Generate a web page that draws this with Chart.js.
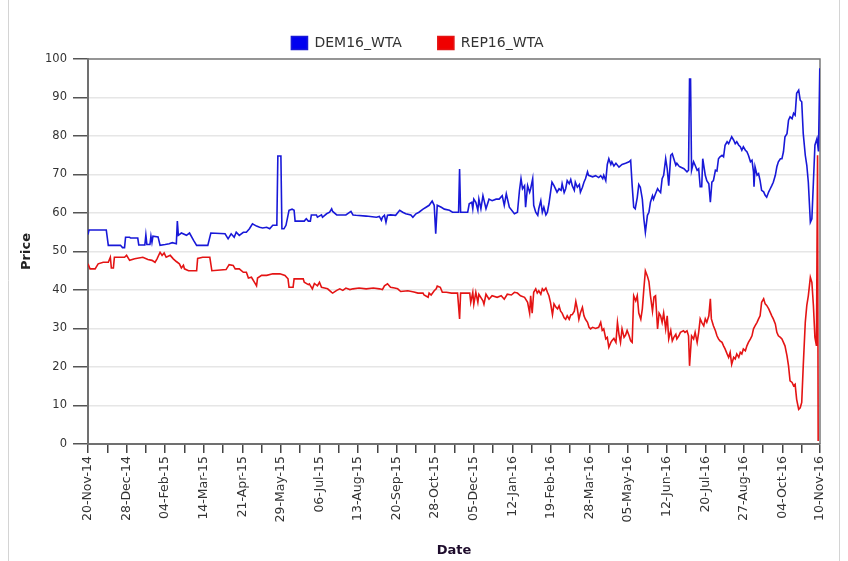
<!DOCTYPE html>
<html>
<head>
<meta charset="utf-8">
<script src="https://cdn.jsdelivr.net/npm/chart.js@4.4.0/dist/chart.umd.min.js"></script>
<style>
  html, body { margin: 0; padding: 0; background: #fff; }
  #wrap { width: 848px; height: 561px; }
</style>
</head>
<body>
<div id="wrap"><canvas id="chart0" width="848" height="561"></canvas></div>
<script>
// x values are days counted from 20-Nov-14
const START = Date.UTC(2014, 10, 20);
const LAST_DAY = 721;

const tickDays = [0, 38, 76, 114, 152, 190, 228, 266, 304, 342, 380, 418, 456, 494, 532, 570, 608, 646, 684, 721];
const tickLabels = ['20-Nov-14', '28-Dec-14', '04-Feb-15', '14-Mar-15', '21-Apr-15', '29-May-15', '06-Jul-15',
  '13-Aug-15', '20-Sep-15', '28-Oct-15', '05-Dec-15', '12-Jan-16', '19-Feb-16', '28-Mar-16', '05-May-16',
  '12-Jun-16', '20-Jul-16', '27-Aug-16', '04-Oct-16', '10-Nov-16'];

// DEM16_WTA
const demDays = [0, 1, 18, 20, 32, 34, 36, 37, 41, 42, 49, 50, 56, 57, 58, 61, 62, 63, 64, 69, 71, 76, 80, 83, 87, 88, 89, 92, 97, 100,
  104, 107, 118, 121, 135, 138, 141, 144, 146, 149, 153, 156, 159, 162, 166, 169, 172, 176, 179, 182, 186, 187, 190, 191, 193, 195, 198, 201, 203, 204,
  213, 215, 217, 219, 220, 225, 226, 230, 231, 235, 238, 240, 241, 245, 254, 259, 261, 264, 274, 284, 287, 289, 290, 292, 293.5, 295, 298, 303, 307, 310,
  313, 318, 320, 323, 326, 330, 333, 336, 339, 341, 342.5, 344, 348, 351, 356, 359, 365, 366, 367, 374, 375.5, 378, 379, 380, 382, 384, 385, 387, 389, 392,
  395, 398, 402, 405, 408, 410, 412, 415, 420, 423, 425, 426.5, 428, 430, 431, 433, 435, 436, 438, 439, 441, 443, 444, 446, 447.5, 449, 451, 452.5, 454, 457,
  459, 462, 464, 466, 467, 469, 470.5, 472, 474, 475.5, 477, 479, 480, 482, 484, 485, 487, 488.5, 490, 492, 493, 497, 500, 503, 505, 507, 508, 510, 511.5, 513,
  515, 516, 518, 520, 523, 526, 529.5, 533, 534.5, 536, 537.5, 539, 541, 542.5, 544, 546, 547.5, 549, 551, 552.5, 554, 556, 557, 559, 561, 562, 564, 565.5, 567, 569,
  570.5, 572, 574, 575.5, 577, 579, 580, 582, 583, 587, 590, 591.5, 592.5, 593.5, 594.5, 596.5, 598, 600, 601.5, 603, 604.5, 605.5, 607, 608, 609.5, 611.5, 613, 614.5,
  616, 618, 619.5, 621, 622.5, 624.5, 626, 627.5, 629.5, 631, 632.5, 634, 636, 637.5, 639, 641, 642.5, 644, 645.5, 647.5, 649, 650.5, 652.5, 654, 655.5, 656, 657, 659,
  660.5, 662, 663.5, 665.5, 667, 668.5, 670.5, 672, 673.5, 675, 677, 678.5, 680, 682, 683.5, 685, 686.5, 688.5, 690, 691.5, 693.5, 695, 696.5, 698, 700, 701.5, 703,
  704.5, 706.5, 708, 709.5, 711.5, 713, 714.5, 716, 718, 719.5, 720.8];
const demPrice = [54.4, 55.6, 55.6, 51.6, 51.6, 51.0, 51.0, 53.7, 53.7, 53.5, 53.5, 51.7, 51.7, 54.3, 51.8, 51.8, 54.0, 52.4, 54.0, 53.8, 51.6, 51.8, 52.0, 52.3, 52.0, 57.9, 54.2, 54.8, 54.2, 54.8,
  52.9, 51.6, 51.6, 54.8, 54.6, 53.3, 54.6, 53.7, 55.0, 54.2, 55.0, 55.0, 55.9, 57.2, 56.6, 56.3, 56.1, 56.3, 55.9, 56.8, 56.8, 74.8, 74.8, 55.9, 55.9, 56.8, 60.7, 61.0, 60.7, 57.9,
  57.9, 58.5, 57.9, 57.9, 59.5, 59.5, 58.9, 59.5, 58.9, 59.8, 60.2, 61.1, 60.4, 59.5, 59.5, 60.4, 59.5, 59.4, 59.2, 58.9, 59.1, 58.1, 58.9, 59.4, 57.6, 59.4, 59.5, 59.4, 60.7, 60.2,
  59.8, 59.5, 58.9, 59.8, 60.2, 61.0, 61.5, 62.0, 63.1, 62.0, 54.6, 62.0, 61.5, 61.0, 60.7, 60.2, 60.2, 71.4, 60.2, 60.2, 62.4, 62.8, 61.1, 63.6, 62.8, 60.7, 63.6, 61.1, 64.5, 61.1,
  63.6, 63.2, 63.6, 63.6, 64.5, 62.0, 65.0, 61.5, 59.8, 60.2, 65.9, 68.9, 66.3, 67.1, 61.5, 67.1, 65.4, 66.3, 68.9, 62.0, 60.2, 59.4, 61.1, 63.2, 60.2, 61.5, 59.5, 60.2, 62.4, 68.0,
  67.1, 65.4, 66.3, 65.9, 67.6, 65.3, 66.3, 68.4, 67.6, 68.7, 67.1, 65.9, 68.0, 66.7, 67.4, 65.4, 66.7, 68.0, 68.9, 70.7, 69.8, 69.4, 69.7, 69.2, 69.7, 68.9, 69.8, 68.4, 72.6, 74.1,
  72.6, 73.3, 72.2, 72.9, 71.9, 72.6, 72.9, 73.3, 73.7, 67.1, 61.5, 61.1, 64.0, 67.4, 66.7, 63.6, 58.5, 55.0, 59.4, 60.2, 62.8, 64.5, 63.6, 65.0, 66.3, 65.9, 65.3, 68.9, 69.8, 74.1,
  71.5, 67.1, 75.0, 75.4, 74.1, 72.4, 72.9, 72.2, 72.0, 71.5, 70.7, 71.1, 94.8, 94.8, 71.1, 73.3, 72.4, 71.1, 71.5, 66.8, 66.8, 74.1, 71.5, 69.8, 68.4, 67.6, 62.8, 68.0,
  68.4, 71.1, 70.9, 74.1, 74.6, 75.0, 74.6, 77.6, 78.5, 78.0, 78.9, 79.8, 78.9, 78.0, 78.5, 77.6, 77.2, 76.3, 77.2, 76.3, 75.9, 75.0, 73.3, 73.7, 70.7, 66.8, 72.0, 69.8,
  70.2, 68.4, 65.9, 65.5, 64.6, 64.1, 65.5, 66.3, 67.1, 68.0, 69.8, 72.0, 73.3, 74.1, 74.1, 75.9, 79.8, 80.6, 84.1, 85.0, 84.5, 85.9, 85.4, 91.1, 91.9, 89.3, 88.9,
  80.6, 75.0, 72.4, 68.0, 57.6, 58.5, 68.0, 77.6, 79.3, 76.0, 97.6];

// REP16_WTA
const repDays = [0, 2, 7, 10, 15, 20, 22, 23, 25, 26, 36, 38, 41, 46, 54, 59, 63, 66, 68, 71, 73, 75, 77, 81, 84, 87, 90, 92, 94, 95,
  99, 107, 108, 113, 120, 122, 136, 139, 143, 145, 149, 153, 156, 158, 161, 164, 166, 167, 171, 176, 182, 189, 194, 197, 198, 202, 203, 212, 213, 217,
  218, 221, 223, 226, 228, 230, 233, 236, 240, 241, 245, 248, 251, 254, 258, 261, 267, 274, 281, 287, 290, 292, 295, 298, 302, 305, 308, 315, 321, 325,
  330, 331, 335, 336, 338, 341, 343, 344, 347, 349, 353, 358, 364, 366, 367, 376, 377, 379, 380, 382, 384, 385, 389, 390, 392, 395, 398, 403, 407, 410,
  413, 417, 420, 423, 426, 430, 433, 435, 436, 437.5, 439, 441, 442.5, 444, 446, 447.5, 449, 451, 452.5, 454, 455.5, 457.5, 459, 461, 462.5, 464, 465.5, 467, 469, 470.5,
  472, 474, 475.5, 477, 479, 480.5, 482, 483.5, 485, 487, 488.5, 490, 492, 493.5, 495, 497, 500, 503, 505, 506.5, 508, 510, 511.5, 513, 515, 516, 518, 520, 521.5, 523,
  524.5, 526, 528, 529.5, 531, 533, 534.5, 536, 537.5, 539.5, 541, 542.5, 544.5, 546, 547.5, 549, 551, 552.5, 554, 556, 557.5, 559, 561, 562.5, 564, 565.5, 567, 569, 570.5, 572,
  574, 575.5, 577, 579, 580, 582, 583.5, 586.5, 588, 590, 591.5, 592.5, 594.5, 596.5, 598, 600, 601.5, 603, 604.5, 606.5, 608, 609.5, 611.5, 613, 614, 616, 618, 619.5,
  621, 622.5, 624.5, 626, 627.5, 629.5, 631, 632.5, 634, 636, 637.5, 639, 641, 642.5, 644, 645.5, 647.5, 649, 650.5, 652.5, 654, 655.5, 657, 659, 660.5, 662, 663.5, 665.5,
  667, 668.5, 670.5, 672, 673.5, 675, 677, 678.5, 680, 682, 683.5, 685, 686.5, 688.5, 690, 691.5, 693.5, 695, 696.5, 698, 700, 701.5, 703, 704.5, 706.5, 708, 709.5, 711.5,
  713, 714.5, 716, 717.5, 718.6, 719.2];
const repPrice = [46.8, 45.5, 45.5, 46.8, 47.2, 47.2, 48.5, 45.7, 45.7, 48.5, 48.5, 49.0, 47.7, 48.1, 48.5, 47.9, 47.7, 47.2, 48.1, 49.8, 49.0, 49.6, 48.5, 49.0, 48.1, 47.4, 46.8, 45.7, 46.4, 45.5,
  45.0, 45.0, 48.2, 48.5, 48.5, 45.0, 45.3, 46.6, 46.4, 45.5, 45.5, 44.6, 44.6, 43.1, 43.3, 42.0, 41.1, 43.1, 43.8, 43.8, 44.2, 44.2, 43.8, 42.9, 40.7, 40.7, 42.9, 42.9, 42.0, 41.4,
  41.6, 40.3, 41.7, 41.1, 42.0, 40.7, 40.5, 40.3, 39.4, 39.2, 39.9, 40.3, 39.9, 40.5, 40.1, 40.3, 40.5, 40.3, 40.5, 40.3, 40.1, 41.1, 41.6, 40.7, 40.5, 40.3, 39.6, 39.8, 39.5, 39.2,
  39.2, 38.7, 38.1, 39.2, 38.7, 39.8, 40.3, 41.0, 40.7, 39.4, 39.4, 39.2, 39.2, 32.5, 39.2, 39.2, 36.8, 39.4, 36.3, 39.4, 36.8, 38.9, 37.2, 36.3, 38.9, 37.6, 38.5, 38.1, 38.5, 37.6,
  38.9, 38.7, 39.4, 39.2, 38.5, 38.1, 36.8, 34.0, 38.5, 34.0, 39.4, 40.3, 39.2, 39.8, 38.9, 40.3, 39.8, 40.5, 39.4, 38.5, 36.8, 33.6, 36.4, 35.5, 35.1, 35.9, 34.5, 34.0, 32.8, 32.4,
  33.3, 32.4, 33.5, 33.6, 34.5, 37.0, 35.1, 32.4, 34.0, 35.5, 33.3, 32.4, 31.6, 30.3, 29.9, 30.3, 30.0, 30.3, 31.6, 29.5, 29.9, 27.3, 27.7, 25.1, 26.4, 26.8, 27.4, 26.4, 31.6, 28.5,
  26.4, 29.9, 27.7, 28.3, 29.5, 28.1, 26.8, 26.4, 38.5, 37.2, 38.5, 34.0, 32.4, 35.1, 40.3, 45.0, 43.6, 42.2, 38.5, 34.5, 38.2, 38.5, 29.9, 34.0, 33.3, 31.6, 34.0, 29.9, 33.3, 27.3,
  29.5, 26.8, 27.7, 28.5, 27.3, 28.1, 29.0, 29.4, 29.0, 29.4, 28.1, 20.3, 28.1, 27.3, 29.0, 26.4, 29.0, 32.5, 31.6, 30.7, 32.5, 31.6, 33.3, 37.7, 32.5, 30.7, 29.4, 28.1,
  27.3, 26.8, 26.4, 25.5, 24.7, 23.4, 22.5, 23.8, 20.7, 22.5, 22.1, 23.4, 22.5, 23.8, 23.4, 24.7, 24.2, 25.5, 26.4, 27.3, 28.1, 29.9, 30.7, 31.6, 32.5, 33.3, 36.8, 37.7,
  36.4, 36.0, 35.1, 34.2, 33.3, 32.5, 31.2, 29.0, 28.1, 27.7, 27.3, 26.4, 25.5, 22.9, 20.3, 16.4, 16.0, 15.1, 15.5, 11.6, 9.0, 9.4, 10.8, 20.3, 31.6, 36.0, 38.5, 43.3,
  42.0, 36.0, 27.7, 25.5, 75.0, 0.8];

function toPoints(days, prices) {
  return days.map((d, i) => ({ x: d, y: prices[i] }));
}

// plot frame + the thin page border, drawn under the lines
const framePlugin = {
  id: 'frame',
  beforeDatasetsDraw(chart) {
    const { ctx, chartArea } = chart;
    ctx.save();
    ctx.strokeStyle = '#7a7a7a';
    ctx.lineWidth = 1.5;
    ctx.beginPath();
    ctx.moveTo(chartArea.left, chartArea.top);
    ctx.lineTo(chartArea.right, chartArea.top);
    ctx.lineTo(chartArea.right, chartArea.bottom);
    ctx.stroke();
    ctx.strokeStyle = '#d4d4d4';
    ctx.lineWidth = 1;
    ctx.beginPath();
    ctx.moveTo(8.5, 0); ctx.lineTo(8.5, 561);
    ctx.moveTo(839.5, 0); ctx.lineTo(839.5, 561);
    ctx.stroke();
    ctx.restore();
  }
};

const ctx = document.getElementById('chart0').getContext('2d');
window.myChart = new Chart(ctx, {
  type: 'line',
  data: {
    datasets: [{
      label: 'DEM16_WTA',
      data: toPoints(demDays, demPrice),
      borderColor: '#1818d8',
      backgroundColor: '#0000f0',
      borderWidth: 1.6,
      pointRadius: 0,
      tension: 0
    }, {
      label: 'REP16_WTA',
      data: toPoints(repDays, repPrice),
      borderColor: '#e41414',
      backgroundColor: '#f00000',
      borderWidth: 1.6,
      pointRadius: 0,
      tension: 0
    }]
  },
  options: {
    responsive: false,
    animation: false,
    devicePixelRatio: 1,
    layout: { padding: { left: 15, right: 28, top: 0, bottom: 0 } },
    plugins: {
      legend: {
        position: 'top',
        maxHeight: 59,
        labels: {
          boxWidth: 16,
          boxHeight: 13,
          padding: 36,
          color: '#333',
          font: { family: 'DejaVu Sans', size: 14 }
        }
      },
      tooltip: { enabled: false }
    },
    scales: {
      x: {
        type: 'linear',
        min: 0,
        max: LAST_DAY,
        afterBuildTicks: scale => {
          // labelled ticks every 38 days, unlabelled ones half way
          const all = [];
          for (let i = 0; i < tickDays.length; i++) {
            all.push({ value: tickDays[i] });
            if (i < tickDays.length - 1 && tickDays[i] + 19 < tickDays[i + 1]) all.push({ value: tickDays[i] + 19 });
          }
          scale.ticks = all;
        },
        afterFit: scale => { scale.height = 117; },
        ticks: {
          autoSkip: false,
          minRotation: 90,
          maxRotation: 90,
          padding: 3,
          color: '#333',
          font: { family: 'DejaVu Sans', size: 12.5 },
          callback: value => {
            const i = tickDays.indexOf(value);
            return i >= 0 ? tickLabels[i] : '';
          }
        },
        grid: { drawOnChartArea: false, tickLength: 9, color: '#444', lineWidth: 1.5 },
        border: { color: '#707070', width: 2 },
        title: {
          display: true,
          text: 'Date',
          color: '#1e0c2c',
          padding: { top: 4, bottom: 3 },
          font: { family: 'DejaVu Sans', size: 13, weight: 'bold' }
        }
      },
      y: {
        min: 0,
        max: 100,
        afterFit: scale => { scale.width = 73; },
        ticks: {
          stepSize: 10,
          padding: 6,
          color: '#333',
          font: { family: 'DejaVu Sans', size: 11.5 }
        },
        grid: { color: '#e6e6e6', tickColor: '#555', tickLength: 15, lineWidth: 1.5 },
        border: { color: '#707070', width: 2 },
        title: {
          display: true,
          text: 'Price',
          color: '#222',
          padding: { top: 4, bottom: 4 },
          font: { family: 'DejaVu Sans', size: 13, weight: 'bold' }
        }
      }
    }
  },
  plugins: [framePlugin]
});
</script>
</body>
</html>
